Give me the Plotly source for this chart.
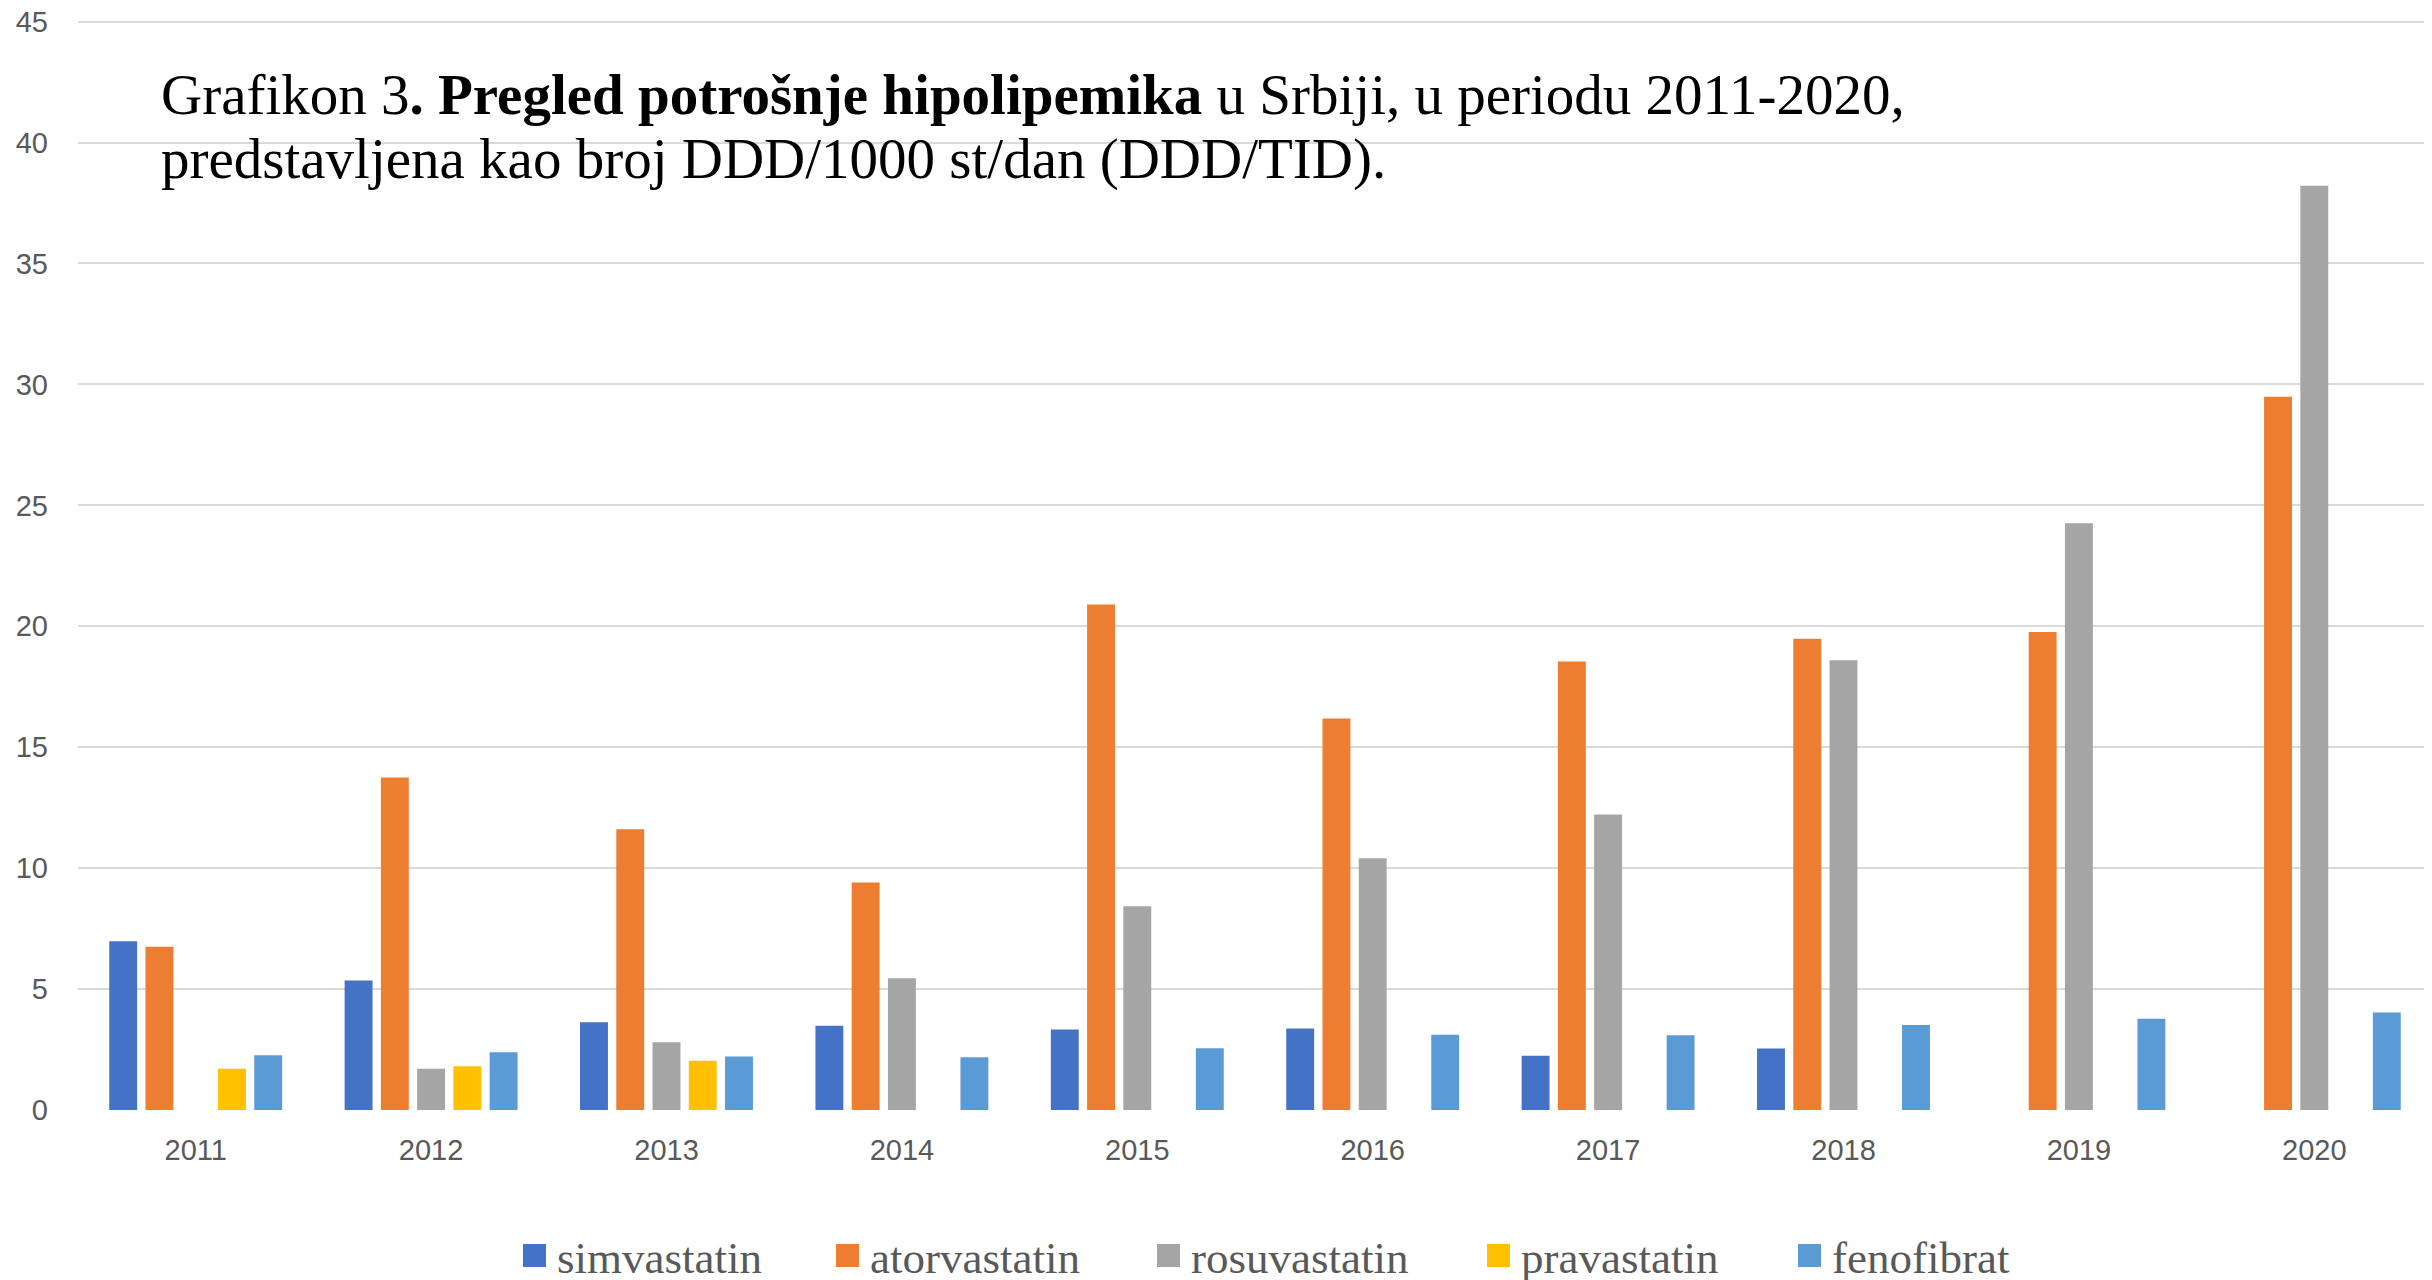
import plotly.graph_objects as go

years = ["2011", "2012", "2013", "2014", "2015", "2016", "2017", "2018", "2019", "2020"]
simvastatin = [6.98, 5.35, 3.63, 3.48, 3.33, 3.37, 2.24, 2.54, None, None]
atorvastatin = [6.75, 13.75, 11.61, 9.41, 20.9, 16.19, 18.54, 19.48, 19.76, 29.49]
rosuvastatin = [None, 1.71, 2.80, 5.45, 8.42, 10.41, 12.22, 18.6, 24.26, 38.21]
pravastatin = [1.71, 1.81, 2.04, None, None, None, None, None, None, None]
fenofibrat = [2.26, 2.39, 2.21, 2.18, 2.55, 3.11, 3.09, 3.51, 3.77, 4.03]

series_names = ["simvastatin", "atorvastatin", "rosuvastatin", "pravastatin", "fenofibrat"]
series_values = [simvastatin, atorvastatin, rosuvastatin, pravastatin, fenofibrat]
series_colors = ["#4472C4", "#ED7D31", "#A5A5A5", "#FFC000", "#5B9BD5"]

y_ticks = [0, 5, 10, 15, 20, 25, 30, 35, 40, 45]
y_top_tick = 45
y_range_max = 45.15  # a hair above the top tick so its gridline is kept

title_line1 = "Grafikon 3<b>. Pregled potrošnje hipolipemika</b> u Srbiji, u periodu 2011-2020,"
title_line2 = "predstavljena kao broj DDD/1000 st/dan (DDD/TID)."

fig = go.Figure()
for name, vals, col in zip(series_names, series_values, series_colors):
    fig.add_trace(go.Bar(x=years, y=vals, name=name, showlegend=False,
                         marker=dict(color=col, line=dict(width=0))))

# the page body has an 8px margin; compensate so the figure fills the window
OFF = 8
W, H = 2432 - OFF, 1280 - OFF
zero_px, top_tick_px = 1110, 22  # screen rows of value 0 and of the top tick
px_per_unit = (zero_px - top_tick_px) / y_top_tick
L, R = 78 - OFF, 0
T = round(top_tick_px - (y_range_max - y_top_tick) * px_per_unit - OFF)
B = H - (zero_px - OFF)
plot_w = W - L - R
plot_h = H - T - B

def sx(px):  # screen px -> paper x
    return (px - OFF - L) / plot_w

def sy(px):  # screen px -> paper y
    return 1 - (px - OFF - T) / plot_h

tick_font = dict(family="Liberation Sans, Arial, sans-serif", size=29, color="#595959")

fig.update_layout(
    width=W, height=H,
    margin=dict(l=L, r=R, t=T, b=B, autoexpand=False),
    paper_bgcolor="white", plot_bgcolor="white",
    barmode="group", bargap=0.23, bargroupgap=0.23,
    showlegend=False,
    xaxis=dict(
        type="category", showgrid=False, showline=False, zeroline=False,
        tickfont=tick_font, ticks="", ticklabelstandoff=20,
    ),
    yaxis=dict(
        range=[0, y_range_max], tickvals=y_ticks, showgrid=True, gridcolor="#D9D9D9", gridwidth=2,
        zeroline=False, showline=False, ticks="", ticklabeloverflow="allow",
        tickfont=tick_font, ticklabelstandoff=29,
    ),
)

title_font = dict(family="Liberation Serif, Times New Roman, serif", size=57, color="black")
fig.add_annotation(text=title_line1, xref="paper", yref="paper", x=sx(159),
                   y=sy(95), xanchor="left", yanchor="middle", showarrow=False, font=title_font)
fig.add_annotation(text=title_line2, xref="paper", yref="paper", x=sx(159),
                   y=sy(159), xanchor="left", yanchor="middle", showarrow=False, font=title_font)

# custom legend (bottom, centred)
legend_marker_left = [523, 836, 1157, 1487, 1798]
legend_font = dict(family="Liberation Serif, Times New Roman, serif", size=45, color="#595959")
for name, col, mx in zip(series_names, series_colors, legend_marker_left):
    fig.add_shape(type="rect", xref="paper", yref="paper",
                  x0=sx(mx), x1=sx(mx + 23), y0=sy(1267), y1=sy(1244),
                  fillcolor=col, line=dict(width=0))
    fig.add_annotation(text=name, xref="paper", yref="paper", x=sx(mx + 32),
                       y=sy(1258), xanchor="left", yanchor="middle", showarrow=False,
                       font=legend_font)

fig.write_html("out.html")
